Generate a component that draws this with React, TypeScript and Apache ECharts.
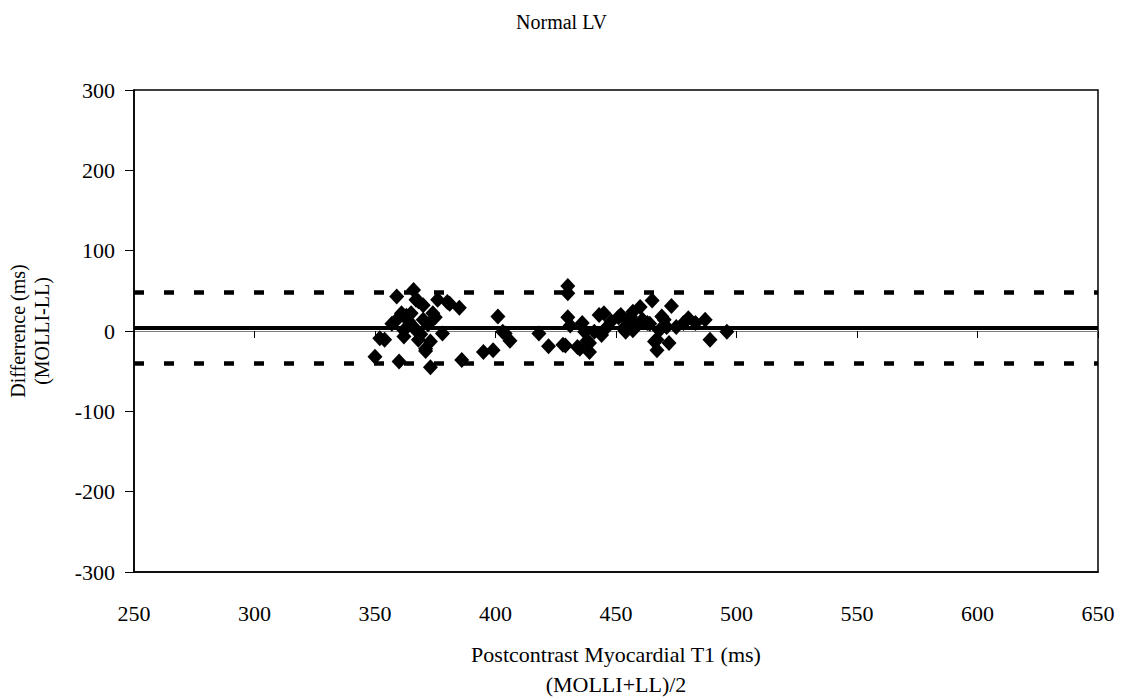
import React, { useEffect, useRef } from "react";
import * as echarts from "echarts";

const titleText = "Normal LV";
const xAxisTitle = "Postcontrast Myocardial T1 (ms)\n(MOLLI+LL)/2";
const yAxisTitle = "Differrence (ms)\n(MOLLI-LL)";

const meanT1: number[] = [
  350, 352, 354, 357, 359, 359, 360, 361, 362, 362, 363, 364, 365, 366, 366, 367, 367, 368, 368, 369,
  370, 370, 371, 371, 372, 373, 373, 374, 375, 376, 378, 380, 381, 385, 386, 395, 399, 401, 403, 404,
  406,
  418, 422, 428, 429, 430, 430, 430, 431, 434, 435, 436, 437, 438, 439, 439, 441, 443, 444, 445, 446,
  448, 451, 452, 453, 454, 455, 456, 457, 457, 458, 460, 461, 463, 464, 465, 466, 467, 467, 468, 469,
  470, 471, 472, 473, 475, 478, 480, 483, 487, 489, 496,
];
const diffMs: number[] = [
  -32, -9, -11, 9, 43, 14, -38, 22, 1, -7, 19, 12, 22, 51, 5, 1, 39, 37, -11, -4,
  32, 14, -22, -25, 8, -13, -45, 22, 17, 39, -3, 36, 34, 29, -36, -26, -24, 18, -1, -3,
  -12,
  -3, -19, -17, -18, 56, 47, 17, 7, -20, -22, 10, -1, -12, -26, -15, -1, 20, -5, 22, 4,
  12, 17, 20, 3, -1, 12, 18, 24, 1, 8, 30, 14, 10, 9, 38, -13, -24, -11, 1, 18,
  14, 5, -15, 31, 5, 10, 16, 10, 14, -11, -1,
];

const meanDiff = 4;
const upperLimit = 48;
const lowerLimit = -40;

const xTicks = { min: 250, max: 650, interval: 50 };
const yTicks = { min: -300, max: 300, interval: 100 };

const FONT = "Liberation Serif";

export default function App() {
  const ref = useRef<HTMLDivElement>(null);

  useEffect(() => {
    if (!ref.current) return;
    const chart = echarts.init(ref.current, null, { renderer: "svg" });
    const points = meanT1.map((x, i) => [x, diffMs[i]]);

    chart.setOption({
      animation: false,
      backgroundColor: "#fff",
      textStyle: { fontFamily: FONT, color: "#000" },
      title: {
        text: titleText,
        left: "center",
        top: 7,
        textStyle: { fontFamily: FONT, fontSize: 20, fontWeight: "normal", color: "#000" },
      },
      grid: {
        left: 134,
        right: 25,
        top: 90,
        bottom: 128,
        containLabel: false,
        outerBoundsMode: "none",
        show: true,
        borderColor: "#000",
        borderWidth: 1.5,
        backgroundColor: "transparent",
      },
      xAxis: [
        {
          type: "value",
          min: xTicks.min,
          max: xTicks.max,
          interval: xTicks.interval,
          position: "bottom",
          axisLine: { show: true, onZero: false, lineStyle: { color: "#000", width: 1.5 } },
          axisTick: { show: false },
          splitLine: { show: false },
          axisLabel: { margin: 30, fontFamily: FONT, fontSize: 22, color: "#000" },
          name: xAxisTitle,
          nameLocation: "middle",
          nameGap: 67,
          nameTextStyle: { fontFamily: FONT, fontSize: 22, color: "#000", lineHeight: 30 },
        },
        {
          type: "value",
          min: xTicks.min,
          max: xTicks.max,
          interval: xTicks.interval,
          position: "bottom",
          axisLine: { show: true, onZero: true, lineStyle: { color: "#808080", width: 1 } },
          axisTick: { show: true, inside: false, length: 7, lineStyle: { color: "#000", width: 1 } },
          axisLabel: { show: false },
          splitLine: { show: false },
        },
      ],
      yAxis: {
        type: "value",
        min: yTicks.min,
        max: yTicks.max,
        interval: yTicks.interval,
        axisLine: { show: true, lineStyle: { color: "#000", width: 1.5 } },
        axisTick: { show: true, length: 9, lineStyle: { color: "#000" } },
        splitLine: { show: false },
        axisLabel: { margin: 19, fontFamily: FONT, fontSize: 22, color: "#000" },
        name: yAxisTitle,
        nameLocation: "middle",
        nameRotate: 90,
        nameGap: 80,
        nameTextStyle: { fontFamily: FONT, fontSize: 20, color: "#000", lineHeight: 24 },
      },
      series: [
        {
          type: "scatter",
          xAxisIndex: 0,
          yAxisIndex: 0,
          data: points,
          symbol: "diamond",
          symbolSize: [15, 16],
          itemStyle: { color: "#000", opacity: 1 },
          z: 5,
          markLine: {
            silent: true,
            symbol: "none",
            label: { show: false },
            data: [
              { yAxis: meanDiff, lineStyle: { type: "solid", color: "#000", width: 4 } },
              { yAxis: upperLimit, lineStyle: { type: [10, 20], color: "#000", width: 4.5 } },
              { yAxis: lowerLimit, lineStyle: { type: [10, 20], color: "#000", width: 4.5 } },
            ],
          },
        },
      ],
    });

    return () => chart.dispose();
  }, []);

  return (
    <div
      ref={ref}
      style={{ position: "fixed", left: 0, top: 0, width: 1123, height: 700, background: "#fff" }}
    />
  );
}
